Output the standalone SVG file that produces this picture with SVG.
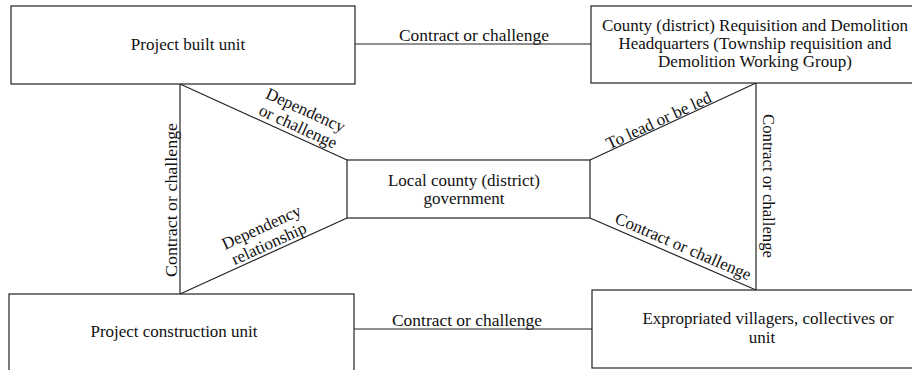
<svg xmlns="http://www.w3.org/2000/svg" width="912" height="370" viewBox="0 0 912 370" font-family="'Liberation Serif', Tinos, 'Times New Roman', 'DejaVu Serif', serif" font-size="17">
<style>
.box{fill:#fff;stroke:#222;stroke-width:1.2}
.ln{fill:none;stroke:#222;stroke-width:1.2}
text{font-family:'Liberation Serif', Tinos, 'Times New Roman', 'DejaVu Serif', serif;font-size:17px;fill:#111}
.m{text-anchor:middle}
</style>
<rect width="912" height="370" fill="#fff"/>
<g id="connectors">
<line class="ln" x1="355" y1="44" x2="591" y2="44"/>
<line class="ln" x1="354" y1="329" x2="592" y2="329"/>
<line class="ln" x1="180" y1="84" x2="180" y2="294"/>
<line class="ln" x1="756" y1="83" x2="756" y2="290" stroke="#444"/>
<line class="ln" x1="180" y1="84" x2="347" y2="160"/>
<line class="ln" x1="180" y1="294" x2="347" y2="218"/>
<line class="ln" x1="590" y1="160" x2="756" y2="83"/>
<line class="ln" x1="590" y1="218" x2="756" y2="290"/>
<text class="m" x="474" y="41" textLength="150" lengthAdjust="spacingAndGlyphs">Contract or challenge</text>
<text class="m" x="467" y="326" textLength="150" lengthAdjust="spacingAndGlyphs">Contract or challenge</text>
<text class="m" transform="translate(177,200) rotate(-90)" textLength="154" lengthAdjust="spacingAndGlyphs">Contract or challenge</text>
<text class="m" transform="translate(763,186) rotate(90)" textLength="144" lengthAdjust="spacingAndGlyphs">Contract or challenge</text>
<g transform="translate(302,118) rotate(24.5)">
<text class="m" x="0" y="-3">Dependency</text>
<text class="m" x="0" y="15">or challenge</text>
</g>
<g transform="translate(265,235) rotate(-24.5)">
<text class="m" x="0" y="-3">Dependency</text>
<text class="m" x="0" y="15">relationship</text>
</g>
<text class="m" transform="translate(661,125.5) rotate(-24.9)">To lead or be led</text>
<text class="m" transform="translate(681,251.5) rotate(23.4)">Contract or challenge</text>
</g>
<g id="project-built-unit">
<rect class="box" x="11" y="6" width="344" height="78"/>
<text class="m" x="188" y="50">Project built unit</text>
</g>
<g id="requisition-hq">
<rect class="box" x="591" y="6" width="340" height="77"/>
<text class="m" x="755" y="31">County (district) Requisition and Demolition</text>
<text class="m" x="755" y="49">Headquarters (Township requisition and</text>
<text class="m" x="755" y="67">Demolition Working Group)</text>
</g>
<g id="local-government">
<rect class="box" x="347" y="160" width="243" height="58"/>
<text class="m" x="464" y="186">Local county (district)</text>
<text class="m" x="464" y="204">government</text>
</g>
<g id="construction-unit">
<rect class="box" x="9" y="294" width="345" height="90"/>
<text class="m" x="174" y="337">Project construction unit</text>
</g>
<g id="villagers">
<rect class="box" x="592" y="290" width="340" height="78"/>
<text class="m" x="768" y="324">Expropriated villagers, collectives or</text>
<text class="m" x="762" y="343">unit</text>
</g>
</svg>
